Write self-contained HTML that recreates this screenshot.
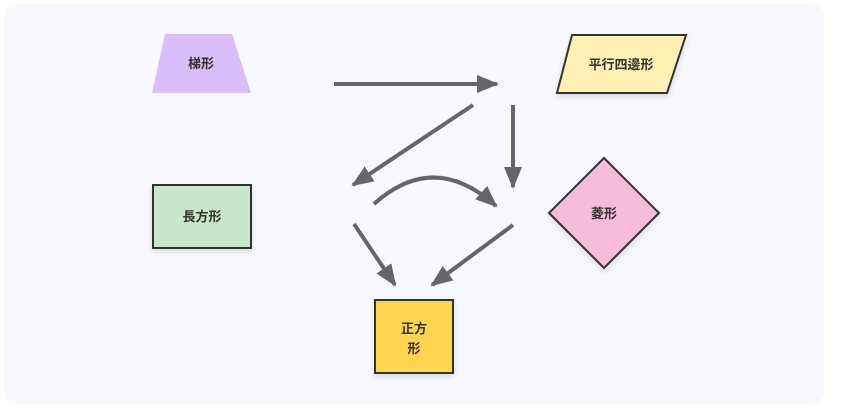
<!DOCTYPE html>
<html><head><meta charset="utf-8"><style>
body{margin:0;width:843px;height:416px;background:#fff;font-family:"Liberation Sans","Noto Sans CJK JP",sans-serif;}
</style></head><body>
<svg width="843" height="416" xmlns="http://www.w3.org/2000/svg" style="position:absolute;left:0;top:0">
<defs>
<marker id="a" markerWidth="22" markerHeight="18" refX="20" refY="9" orient="auto" markerUnits="userSpaceOnUse" viewBox="0 0 22 18"><path d="M0,0 L22,9 L0,18 z" fill="#666"/></marker>
<filter id="s" x="-20%" y="-20%" width="140%" height="140%"><feDropShadow dx="0" dy="3" stdDeviation="3" flood-color="#000" flood-opacity="0.12"/></filter>
</defs>
<rect x="4" y="4" width="820" height="400" rx="12" fill="#f8f9fe"/>
<polygon points="165,34 232,34 251,93 152,93" fill="#dcbdfb"/>
<polygon points="572,35 686,35 667,93 557,93" fill="#fff0b3" stroke="#333" stroke-width="2" filter="url(#s)"/>
<rect x="153" y="185" width="98" height="63" fill="#c8e6c9" stroke="#333" stroke-width="2" filter="url(#s)"/>
<polygon points="604,158 659,213 604,268 549,213" fill="#f8bbd9" stroke="#333" stroke-width="2" filter="url(#s)"/>
<rect x="375" y="300" width="78" height="73" fill="#ffd54f" stroke="#333" stroke-width="2" filter="url(#s)"/>
<g stroke="#666" stroke-width="4" fill="none">
<line x1="334" y1="84" x2="497" y2="84" marker-end="url(#a)" />
<line x1="473" y1="105" x2="353" y2="185" marker-end="url(#a)"/>
<line x1="513" y1="105" x2="513" y2="187" marker-end="url(#a)"/>
<path d="M374,204 Q434,150 496,206" marker-end="url(#a)"/>
<line x1="354" y1="224" x2="395" y2="285" marker-end="url(#a)"/>
<line x1="513" y1="225" x2="432" y2="285" marker-end="url(#a)"/>
</g>
<g font-size="13" fill="#333" font-weight="bold" text-anchor="middle" font-family="Liberation Sans, Noto Sans CJK JP, sans-serif">
<text x="201" y="68">梯形</text>
<text x="621" y="69">平行四邊形</text>
<text x="202" y="221">長方形</text>
<text x="604" y="218">菱形</text>
<text x="414" y="333">正方</text>
<text x="414" y="353">形</text>
</g>
</svg>
</body></html>
